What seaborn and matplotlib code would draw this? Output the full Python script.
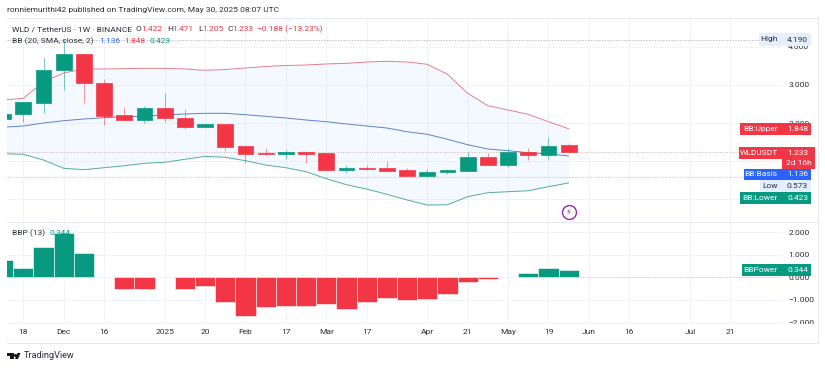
# WLD / USDT weekly chart with bollinger bands and BBP panel

import numpy as np
import pandas as pd
import seaborn as sns
import matplotlib.pyplot as plt
from matplotlib.patches import Rectangle, Polygon

# week number on the time scale (0 = 11 Nov 2024)
weeks = list(range(29))

opens = [2.105, 2.229, 2.534, 3.395, 3.816, 3.053, 2.211, 2.087, 2.395, 2.132,
         1.903, 1.982, 1.395, 1.211, 1.192, 1.237, 1.203, 0.763, 0.816, 0.816,
         0.771, 0.597, 0.711, 0.737, 1.105, 0.903, 1.245, 1.158, 1.422]
highs = [2.230, 2.545, 3.745, 4.190, 3.816, 3.158, 2.413, 2.447, 2.797, 2.361,
         1.982, 1.982, 1.421, 1.350, 1.289, 1.237, 1.203, 0.895, 0.887, 1.000,
         0.824, 0.782, 0.789, 1.245, 1.211, 1.334, 1.334, 1.624, 1.471]
lows = [2.105, 2.018, 2.263, 2.868, 2.518, 1.939, 2.087, 2.008, 2.034, 1.834,
        1.903, 1.271, 0.955, 1.158, 1.061, 0.955, 0.771, 0.684, 0.763, 0.737,
        0.597, 0.573, 0.658, 0.737, 0.903, 0.850, 1.026, 1.045, 1.205]
closes = [2.229, 2.545, 3.403, 3.816, 3.053, 2.192, 2.087, 2.395, 2.139, 1.903,
          1.982, 1.376, 1.192, 1.192, 1.229, 1.192, 0.771, 0.816, 0.797, 0.737,
          0.597, 0.711, 0.763, 1.097, 0.903, 1.245, 1.158, 1.403, 1.233]

bb_upper = [2.605, 2.650, 3.079, 3.316, 3.421, 3.421, 3.429, 3.439, 3.439, 3.421,
            3.387, 3.408, 3.447, 3.487, 3.513, 3.526, 3.553, 3.571, 3.605, 3.624,
            3.605, 3.545, 3.282, 2.782, 2.455, 2.342, 2.229, 2.034, 1.848]
bb_basis = [1.887, 1.921, 2.000, 2.061, 2.105, 2.139, 2.166, 2.176, 2.211, 2.237,
            2.255, 2.255, 2.218, 2.176, 2.132, 2.079, 2.034, 1.974, 1.921, 1.868,
            1.771, 1.703, 1.571, 1.429, 1.316, 1.271, 1.218, 1.184, 1.136]
bb_lower = [1.192, 1.176, 1.026, 0.808, 0.771, 0.824, 0.876, 0.939, 0.966, 1.045,
            1.124, 1.097, 1.008, 0.895, 0.824, 0.718, 0.534, 0.376, 0.263, 0.124,
            -0.026, -0.158, -0.150, 0.061, 0.166, 0.192, 0.218, 0.324, 0.423]

bbp = [0.767, 0.398, 1.327, 1.976, 1.077, 0.0, -0.501, -0.516, 0.0, -0.516,
       -0.369, -1.106, -1.696, -1.298, -1.254, -1.268, -1.180, -1.401, -1.077, -0.900,
       -0.988, -0.944, -0.723, -0.206, -0.074, 0.015, 0.177, 0.398, 0.344]

tick_weeks = [1, 3, 5, 8, 10, 12, 14, 16, 18, 21, 23, 25, 27, 29, 31, 34, 36]
tick_labels = ["18", "Dec", "16", "2025", "20", "Feb", "17", "Mar", "17", "Apr",
               "21", "May", "19", "Jun", "16", "Jul", "21"]
price_ticks = [0, 1, 2, 3, 4]
# 0 and 1 sit under the price tags in the picture
price_labels = ["", "", "2.000", "3.000", "4.000"]
bbp_ticks = [-2, -1, 0, 1, 2]

RED = "#F23645"
GREEN = "#089981"
BLUE = "#2962FF"
GRID = "#F0F3FA"
TXT = "#2A2E39"
LIGHT = "#E3EFFD"

sns.set_theme(style="white")
plt.rcParams["font.family"] = ["Roboto", "DejaVu Sans"]
W, H = 825, 368
fig = plt.figure(figsize=(W / 100, H / 100), dpi=100)


def axes_px(x0, x1, y0, y1):
    return fig.add_axes([x0 / W, 1 - y1 / H, (x1 - x0) / W, (y1 - y0) / H])


def text_px(x, y, s, color=TXT, size=6.0, ha="left", z=6, **kw):
    fig.text(x / W, 1 - y / H, s, color=color, fontsize=size, ha=ha, va="center", zorder=z, **kw)


def box_px(x0, x1, y0, y1, color, z=5):
    fig.add_artist(Rectangle((x0 / W, 1 - y1 / H), (x1 - x0) / W, (y1 - y0) / H, transform=fig.transFigure,
                             facecolor=color, edgecolor="none", zorder=z))


def tag(x0, x1, y0, y1, name, value, color):
    box_px(x0, 781.5, y0, y1, color)
    box_px(782, x1, y0, y1, color)
    text_px(777.5, (y0 + y1) / 2, name, color="white", ha="right")
    text_px(808, (y0 + y1) / 2, value, color="white", ha="right")


ax = axes_px(7, 782, 18, 222)
ax2 = axes_px(7, 782, 222, 323)

# candles
candles = pd.DataFrame({"week": weeks, "open": opens, "high": highs, "low": lows, "close": closes})
candles["bottom"] = candles[["open", "close"]].min(axis=1)
candles["body"] = (candles["close"] - candles["open"]).abs()
up = candles[candles["close"] >= candles["open"]]
down = candles[candles["close"] < candles["open"]]

bands = pd.DataFrame({"week": weeks, "upper": bb_upper, "basis": bb_basis, "lower": bb_lower})
ax.fill_between(bands["week"], bands["lower"], bands["upper"], color="#2196F3", alpha=0.05, lw=0, zorder=1)
sns.lineplot(data=bands, x="week", y="upper", color="#E2808A", lw=0.7, ax=ax, zorder=2)
sns.lineplot(data=bands, x="week", y="basis", color="#5F83C6", lw=0.7, ax=ax, zorder=2)
sns.lineplot(data=bands, x="week", y="lower", color="#55AE9A", lw=0.7, ax=ax, zorder=2)

for part, col in [(up, GREEN), (down, RED)]:
    ax.vlines(part["week"], part["low"], part["high"], color=col, lw=0.6, alpha=0.6, zorder=3)
    sns.barplot(data=part, x="week", y="body", bottom=part["bottom"].values, native_scale=True,
                color=col, saturation=1, width=0.78, edgecolor=col, linewidth=0.5, ax=ax, zorder=4)

# dashed markers for high, low and last price
ax.axhline(max(highs), color="#A3A6AF", lw=0.5, ls=(0, (2, 2)), zorder=1.5)
ax.axhline(min(lows), color="#B2B5BE", lw=0.5, ls=(0, (2, 2)), zorder=1.5)
ax.axhline(closes[-1], color="#C9A0A6", lw=0.5, ls=(0, (1.5, 2)), zorder=1.5)

# bbp histogram
power = pd.DataFrame({"week": weeks, "bbp": bbp})
power["side"] = np.where(power["bbp"] >= 0, "up", "down")
sns.barplot(data=power, x="week", y="bbp", hue="side", hue_order=["up", "down"], dodge=False,
            palette={"up": GREEN, "down": RED}, saturation=1, native_scale=True, width=1.0,
            edgecolor="white", linewidth=0.4, legend=False, ax=ax2, zorder=3)
ax2.axhline(0, color="#C4C7CE", lw=0.5, ls=(0, (2, 2)), zorder=2)

ax.set_ylim(-0.605, 4.763)
ax2.set_ylim(-2.022, 2.447)
for a in (ax, ax2):
    a.set_xlim(0.193, 38.56)
    a.set_xticks(tick_weeks)
    a.grid(True, color=GRID, lw=0.7)
    a.set_axisbelow(True)
    a.set_xlabel("")
    a.set_ylabel("")
    a.yaxis.tick_right()
    sns.despine(ax=a, left=True, bottom=True, right=True, top=True)
    a.tick_params(length=0, labelsize=6.0, colors=TXT, pad=4.5)

ax.set_xticklabels([])
ax.set_yticks(price_ticks)
ax.set_yticklabels(price_labels)
ax2.set_xticklabels(tick_labels)
ax2.tick_params(axis="x", pad=4)
ax2.set_yticks(bbp_ticks)
ax2.set_yticklabels([("%.3f" % v).replace("-", "\u2212") for v in bbp_ticks])

# hide the part of the scale under the time axis, then the frame lines
box_px(783, 817, 323.5, 342, "white", z=3)
for y in (18, 222, 343):
    fig.add_artist(plt.Line2D([7 / W, 818 / W], [1 - y / H] * 2, color="#E6E8EE", lw=0.7, zorder=4))
fig.add_artist(plt.Line2D([7 / W, 782 / W], [1 - 323 / H] * 2, color="#F0F1F5", lw=0.6, zorder=4))
fig.add_artist(plt.Line2D([818 / W] * 2, [1 - 18 / H, 1 - 343 / H], color="#E6E8EE", lw=0.7, zorder=4))

# header
text_px(7, 10, "ronniemurithi42 published on TradingView.com, May 30, 2025 08:07 UTC")
text_px(12, 29, "WLD / TetherUS \u00b7 1W \u00b7 BINANCE")
for x, s, c in [(136, "O", TXT), (141, "1.422", RED), (167, "H", TXT), (172, "1.471", RED),
                (198, "L", TXT), (202, "1.205", RED), (227, "C", TXT), (232, "1.233", RED),
                (257, "\u22120.188 (\u221213.23%)", RED)]:
    text_px(x, 29, s, color=c)
text_px(12, 41, "BB (20, SMA, close, 2)")
text_px(99, 41, "1.136", color=BLUE)
text_px(124, 41, "1.848", color=RED)
text_px(150, 41, "0.423", color=GREEN)
text_px(12, 233, "BBP (13)")
text_px(49, 233, "0.344", color=GREEN)

# price scale tags
box_px(759, 811, 33, 46, LIGHT)
text_px(777.5, 39.5, "High", ha="right")
text_px(808, 39.5, "4.190", ha="right")
tag(740, 811, 123, 135, "BB:Upper", "1.848", RED)
box_px(739, 781.5, 147, 159, RED)
box_px(782, 815, 147, 169, RED)
text_px(777.5, 153, "WLDUSDT", color="white", ha="right")
text_px(808, 153, "1.233", color="white", ha="right")
text_px(812, 163, "2d 16h", color="white", ha="right")
tag(744, 811, 169, 180, "BB:Basis", "1.136", BLUE)
box_px(760, 811, 180, 192, LIGHT)
text_px(777.5, 186, "Low", ha="right")
text_px(808, 186, "0.573", ha="right")
tag(740, 811, 192, 204, "BB:Lower", "0.423", GREEN)
tag(742, 811, 264, 276, "BBPower", "0.344", GREEN)

# lightning marker
ax.plot([28.0], [(199 - 212) / 38], marker="o", ms=10, mfc="white", mec="#9C27B0", mew=1.0, zorder=6)
ax.text(28.0, (199 - 212) / 38, "\u26a1", color="#9C27B0", fontsize=6, ha="center", va="center",
        family="DejaVu Sans", zorder=7)

# TradingView logo
logo = [[(7, 353), (13.5, 353), (13.5, 359), (10.3, 359), (10.3, 356), (7, 356)],
        [(15, 359), (17.5, 353), (20.5, 353), (18, 359)]]
for pts in logo:
    fig.add_artist(Polygon([(x / W, 1 - y / H) for x, y in pts], transform=fig.transFigure,
                           facecolor="#131722", edgecolor="none"))
fig.add_artist(plt.Line2D([15 / W], [1 - 354.5 / H], marker="o", ms=2.2, color="#131722", mew=0))
text_px(24, 356, "TradingView", size=6.6)

fig.savefig("out.png", dpi=100)
